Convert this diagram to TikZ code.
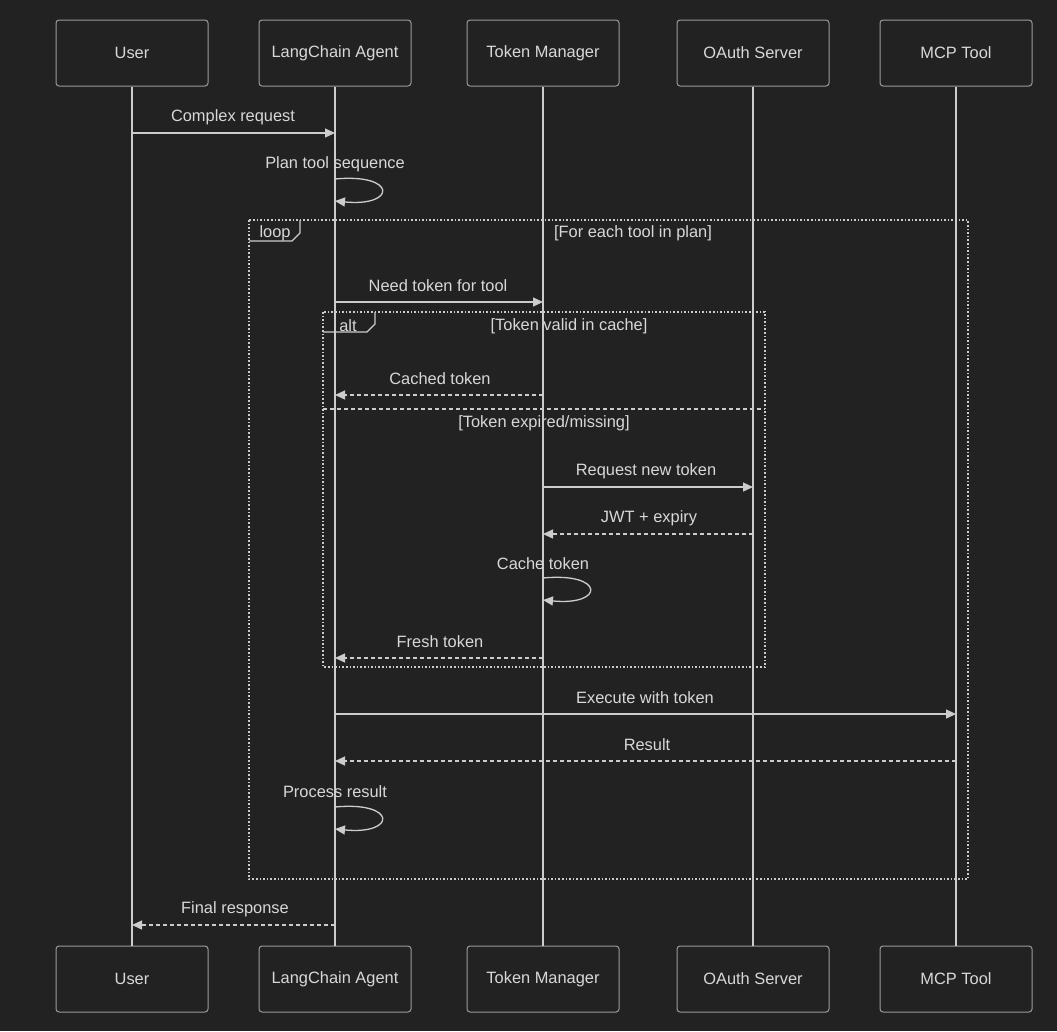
\documentclass[tikz,border=0pt]{standalone}
\usepackage{fontspec}
\setmainfont{Liberation Sans}
\usetikzlibrary{arrows.meta}
\definecolor{bg}{HTML}{222222}
\definecolor{ln}{HTML}{CCCCCC}
\definecolor{tx}{HTML}{D8D8D8}
\definecolor{bd}{HTML}{9A9A9A}
\newcommand{\actortext}[1]{\raisebox{-2pt}{#1}}
\tikzset{
  actor/.style={draw=bd, line width=1pt, fill=bg, rounded corners=3pt, minimum width=152pt, minimum height=66pt, text=tx, font=\fontsize{16.4}{19}\selectfont},
  lifeline/.style={ln, line width=1.6pt},
  msg/.style={ln, line width=1.3pt, -{Triangle[length=10pt,width=9pt]}},
  reply/.style={msg, dash pattern=on 4pt off 3pt},
  lbl/.style={text=tx, font=\fontsize{16.4}{19}\selectfont, inner sep=0pt},
  frame/.style={ln, line width=1.6pt, dash pattern=on 1.6pt off 2pt},
  tab/.style={ln, line width=1.2pt},
  sep/.style={ln, line width=1.4pt, dash pattern=on 4pt off 3pt},
}
\begin{document}
\begin{tikzpicture}[x=1pt,y=-1pt]
\fill[bg] (0,0) rectangle (1057,1031);
\useasboundingbox (0,0) rectangle (1057,1031);
% actors
\node[actor] (u)  at (132,53) {\actortext{User}};
\node[actor] (a)  at (335,53) {\actortext{LangChain Agent}};
\node[actor] (t)  at (543,53) {\actortext{Token Manager}};
\node[actor] (o)  at (753,53) {\actortext{OAuth Server}};
\node[actor] (m)  at (956,53) {\actortext{MCP Tool}};
\node[actor] (ub) at (132,979) {\actortext{User}};
\node[actor] (ab) at (335,979) {\actortext{LangChain Agent}};
\node[actor] (tb) at (543,979) {\actortext{Token Manager}};
\node[actor] (ob) at (753,979) {\actortext{OAuth Server}};
\node[actor] (mb) at (956,979) {\actortext{MCP Tool}};
% frames
\draw[frame] (249,220) rectangle (968,879);
\draw[tab] (249,241) -- (292,241) -- (300,233) -- (300,220);
\node[lbl] (looplbl) at (275,233) {loop};
\node[lbl] (loopcond) at (633,233) {[For each tool in plan]};
\draw[frame] (323,312) rectangle (765,667);
\draw[tab] (323,332) -- (367,332) -- (375,324) -- (375,312);
\node[lbl] (altlbl) at (348,326) {alt};
\node[lbl] (altc1) at (569,326) {[Token valid in cache]};
\draw[sep] (323,409) -- (765,409);
\node[lbl] (altc2) at (544,423) {[Token expired/missing]};
% lifelines
\draw[lifeline] (u) -- (ub);
\draw[lifeline] (a) -- (ab);
\draw[lifeline] (t) -- (tb);
\draw[lifeline] (o) -- (ob);
\draw[lifeline] (m) -- (mb);
% messages
\node[lbl] at (233,117) {Complex request};
\draw[msg] (u |- 0,133) -- (a |- 0,133);
\node[lbl] at (335,164) {Plan tool sequence};
\draw[msg] (a |- 0,179) .. controls (397,173) and (397,207) .. (a |- 0,201);
\node[lbl] at (438,286) {Need token for tool};
\draw[msg] (a |- 0,302) -- (t |- 0,302);
\node[lbl] at (440,379) {Cached token};
\draw[reply] (t |- 0,395) -- (a |- 0,395);
\node[lbl] at (646,471) {Request new token};
\draw[msg] (t |- 0,487) -- (o |- 0,487);
\node[lbl] at (649,518) {JWT + expiry};
\draw[reply] (o |- 0,534) -- (t |- 0,534);
\node[lbl] at (543,564) {Cache token};
\draw[msg] (t |- 0,578) .. controls (605,572) and (605,606) .. (t |- 0,600);
\node[lbl] at (440,642) {Fresh token};
\draw[reply] (t |- 0,658) -- (a |- 0,658);
\node[lbl] at (645,698) {Execute with token};
\draw[msg] (a |- 0,714) -- (m |- 0,714);
\node[lbl] at (647,745) {Result};
\draw[reply] (m |- 0,761) -- (a |- 0,761);
\node[lbl] at (335,792) {Process result};
\draw[msg] (a |- 0,807) .. controls (397,801) and (397,835) .. (a |- 0,829);
\node[lbl] at (235,909) {Final response};
\draw[reply] (a |- 0,925) -- (u |- 0,925);
\end{tikzpicture}
\end{document}
